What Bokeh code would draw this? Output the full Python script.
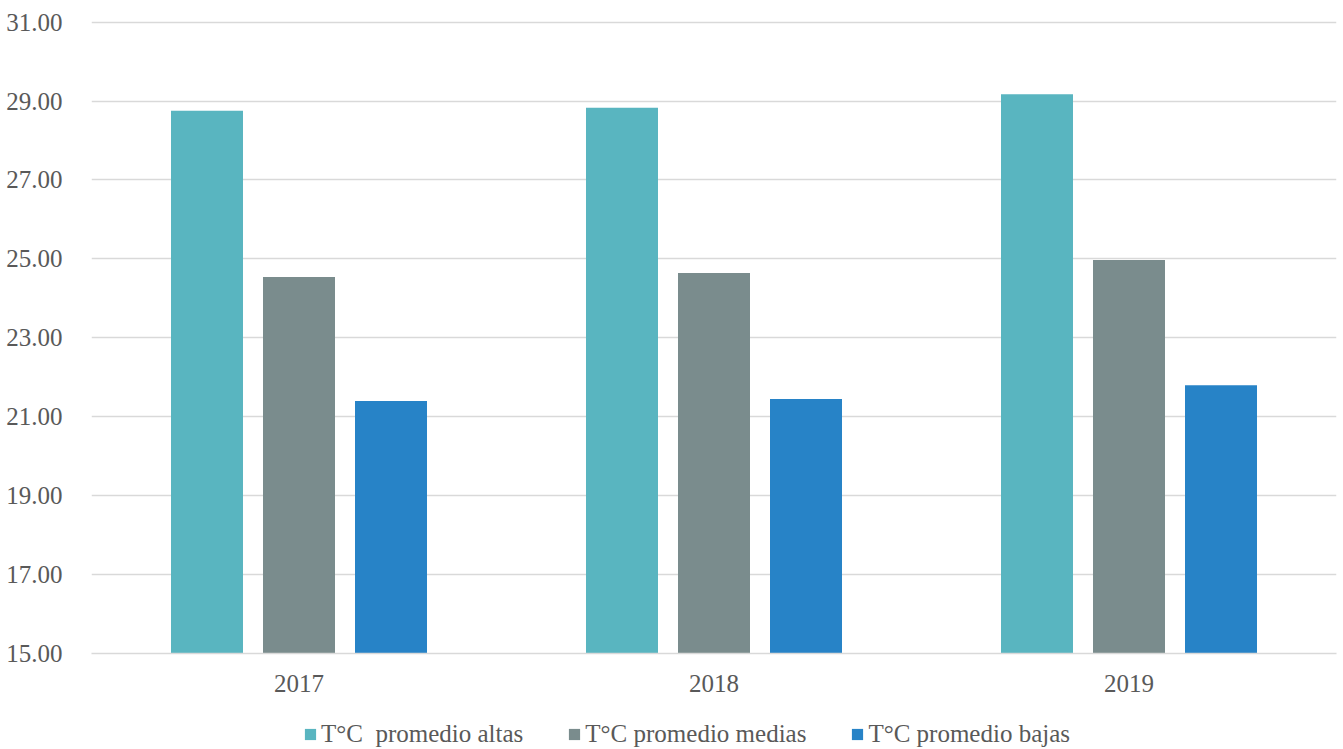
from bokeh.plotting import figure
from bokeh.layouts import column
from bokeh.models import (ColumnDataSource, FactorRange, FixedTicker,
                          NumeralTickFormatter, Legend, LegendItem, Range1d)
from bokeh.transform import dodge
from bokeh.embed import file_html
from bokeh.resources import INLINE

# Yearly average temperatures (°C)
years = ["2017", "2018", "2019"]
altas = [28.75, 28.83, 29.17]
medias = [24.54, 24.64, 24.97]
bajas = [21.40, 21.45, 21.80]

series_labels = ["T°C  promedio altas", "T°C promedio medias", "T°C promedio bajas"]
colors = ["#59B5C0", "#7A8C8D", "#2783C7"]
y_ticks = [15, 17, 19, 21, 23, 25, 27, 29, 31]

FONT = "Liberation Serif"
TEXT_COLOR = "#595959"
GRID_COLOR = "#D9D9D9"
FONT_SIZE = "25px"

source = ColumnDataSource(data=dict(years=years, altas=altas, medias=medias, bajas=bajas))

bar_w = 0.1735
step = 0.2217
fields = ["altas", "medias", "bajas"]

# Main bar chart
p = figure(
    width=1343, height=700,
    x_range=FactorRange(*years, range_padding=0),
    y_range=Range1d(15, 31.04),
    output_backend="svg", toolbar_location=None,
    min_border_left=91, min_border_right=7,
    min_border_top=20, min_border_bottom=47,
)
p.outline_line_color = None
p.background_fill_color = "white"
p.border_fill_color = "white"

for i, (f, c) in enumerate(zip(fields, colors)):
    p.vbar(x=dodge("years", (i - 1) * step, range=p.x_range), top=f, bottom=15,
           width=bar_w, source=source, fill_color=c, line_color=None)

p.yaxis.ticker = FixedTicker(ticks=y_ticks)
p.yaxis.formatter = NumeralTickFormatter(format="0.00")
p.yaxis.axis_line_color = None
p.yaxis.major_tick_line_color = None
p.yaxis.minor_tick_line_color = None
p.yaxis.major_label_standoff = 23
p.xaxis.axis_line_color = GRID_COLOR
p.xaxis.axis_line_width = 1.3
p.xaxis.major_tick_line_color = None
p.xaxis.minor_tick_line_color = None
p.xaxis.major_label_standoff = 15
for ax in (p.xaxis[0], p.yaxis[0]):
    ax.major_label_text_font = FONT
    ax.major_label_text_font_size = FONT_SIZE
    ax.major_label_text_color = TEXT_COLOR

p.xgrid.grid_line_color = None
p.ygrid.grid_line_color = GRID_COLOR
p.ygrid.grid_line_width = 1.3
p.ygrid.ticker = FixedTicker(ticks=y_ticks)

# Legend strip under the chart; its series renderers stay hidden and only feed the swatches
lg_fig = figure(
    width=1343, height=49,
    x_range=FactorRange(*years, range_padding=0), y_range=Range1d(15, 31.04),
    x_axis_type=None, y_axis_type=None,
    output_backend="svg", toolbar_location=None,
    min_border_left=0, min_border_right=0, min_border_top=0, min_border_bottom=0,
)
lg_fig.outline_line_color = None
lg_fig.xgrid.visible = False
lg_fig.ygrid.visible = False

swatches = []
for i, (f, c) in enumerate(zip(fields, colors)):
    r = lg_fig.vbar(x=dodge("years", (i - 1) * step, range=lg_fig.x_range), top=f, bottom=15,
                    width=bar_w, source=source, fill_color=c, line_color=None,
                    visible=False)
    swatches.append(r)

legend = Legend(items=[LegendItem(label=lab, renderers=[r])
                       for r, lab in zip(swatches, series_labels)],
                location=(212, 0), orientation="horizontal",
                padding=0, margin=0, spacing=44,
                glyph_width=14, glyph_height=14, label_standoff=4,
                label_height=30,
                label_text_font=FONT, label_text_font_size=FONT_SIZE,
                label_text_color=TEXT_COLOR,
                inactive_fill_alpha=0,
                border_line_alpha=0, background_fill_alpha=0)
lg_fig.add_layout(legend)

layout = column(p, lg_fig, spacing=0)
open("out.html", "w").write(file_html(layout, INLINE))
